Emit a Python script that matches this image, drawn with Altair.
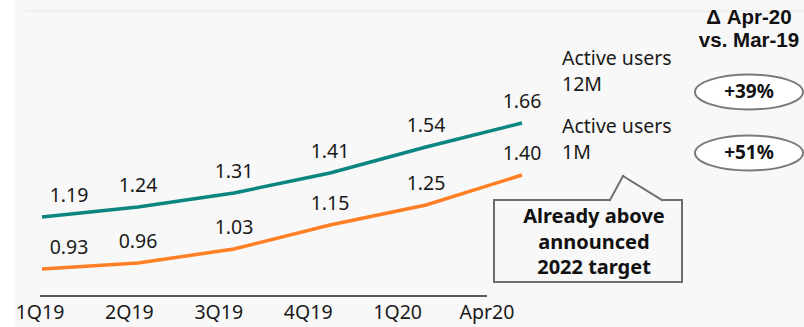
import altair as alt
import pandas as pd

# ---------------- data ----------------
periods = ["1Q19", "2Q19", "3Q19", "4Q19", "1Q20", "Apr20"]
series_names = ["Active users\n12M", "Active users\n1M"]
users_12m = [1.19, 1.24, 1.31, 1.41, 1.54, 1.66]
users_1m = [0.93, 0.96, 1.03, 1.15, 1.25, 1.40]
deltas = ["+39%", "+51%"]
delta_header = "Δ Apr-20\nvs. Mar-19"
callout_text = "Already above\nannounced\n2022 target"
series_colors = ["#0A8580", "#FF7F24"]

W, H = 804, 327
FONT = "Noto Sans"

rows = []
for name, vals in zip(series_names, [users_12m, users_1m]):
    for i, v in enumerate(vals):
        rows.append({"i": i, "period": periods[i], "s": name, "v": v})
df = pd.DataFrame(rows)
cat_df = pd.DataFrame({"j": list(range(len(periods))), "period": periods})
side_df = pd.DataFrame({"k": [0, 1], "name": series_names, "d": deltas})
one = pd.DataFrame({"a": [0]})

x_pts = alt.X("i:Q", scale=alt.Scale(domain=[-0.4375, 7.9375], nice=False, zero=False), axis=None)
y_val = alt.Y("v:Q", scale=alt.Scale(domain=[0.64, 2.275], nice=False, zero=False), axis=None)
color = alt.Color("s:N", scale=alt.Scale(domain=series_names, range=series_colors), legend=None)

# background panel and top separator
bg = alt.Chart(one).mark_rect(color="#F8F8F8").encode(
    x=alt.value(15), x2=alt.value(W), y=alt.value(0), y2=alt.value(H))
sep = alt.Chart(one).mark_rule(color="#E6E6E6", strokeWidth=1).encode(
    x=alt.value(25), x2=alt.value(W), y=alt.value(11))

lines = alt.Chart(df).mark_line(strokeWidth=3.5).encode(x=x_pts, y=y_val, color=color)

lab_style = dict(fontSize=19.5, font=FONT, color="#1A1A1A", baseline="middle", dy=-21)
labels_first = alt.Chart(df).transform_filter("datum.i == 0").mark_text(dx=27, **lab_style).encode(
    x=x_pts, y=y_val, text=alt.Text("v:Q", format=".2f"))
labels_rest = alt.Chart(df).transform_filter("datum.i > 0").mark_text(**lab_style).encode(
    x=x_pts, y=y_val, text=alt.Text("v:Q", format=".2f"))

# category axis (own scale)
cat_scale = alt.Scale(domain=[-0.4474, 8.5459], nice=False, zero=False)
x_cat = alt.X("j:Q", scale=cat_scale, axis=None)
cat_labels = alt.Chart(cat_df).mark_text(fontSize=19.5, font=FONT, color="#1A1A1A", baseline="middle").encode(
    x=x_cat, y=alt.value(313), text="period:N")
axis_line = alt.Chart(cat_df).transform_aggregate(j0="min(j)", j1="max(j)").mark_rule(
    color="#262626", strokeWidth=1.5).encode(
    x=alt.X("j0:Q", scale=cat_scale, axis=None), x2="j1:Q", y=alt.value(296))

# series names on the right (y of first line)
y_side_names = alt.Y("k:Q", scale=alt.Scale(domain=[0, 1], range=[59, 127], nice=False, zero=False), axis=None)
names = alt.Chart(side_df).mark_text(fontSize=19.5, font=FONT, color="#1A1A1A", align="left",
                                     baseline="middle", lineBreak="\n", lineHeight=26).encode(
    x=alt.value(562), y=y_side_names, text="name:N")

# delta header and ellipses
header = alt.Chart(pd.DataFrame({"t": [delta_header]})).mark_text(
    fontSize=20.5, font="Liberation Sans", fontWeight="bold", color="#111111",
    baseline="middle", lineBreak="\n", lineHeight=23).encode(
    x=alt.value(749), y=alt.value(18), text="t:N")

y_side_d = alt.Y("k:Q", scale=alt.Scale(domain=[0, 1], range=[92, 153], nice=False, zero=False), axis=None)
ellipse_path = "M -1 0 A 1 0.324 0 1 1 1 0 A 1 0.324 0 1 1 -1 0 Z"
ellipses = alt.Chart(side_df).mark_point(shape=ellipse_path, size=108 * 108, filled=True,
                                         fill="#FFFFFF", stroke="#7A7A7A", strokeWidth=2,
                                         opacity=1).encode(
    x=alt.value(749), y=y_side_d)
delta_txt = alt.Chart(side_df).mark_text(fontSize=19, font=FONT, fontWeight="bold",
                                         color="#111111", baseline="middle").encode(
    x=alt.value(749), y=y_side_d, text="d:N")

# callout box
seg_df = pd.DataFrame({
    "x": [494, 494, 682, 494, 662, 610, 623],
    "y": [200, 282, 282, 200, 200, 200, 176],
    "x2": [494, 682, 682, 610, 682, 623, 662],
    "y2": [282, 282, 200, 200, 200, 176, 200],
})
box = alt.Chart(seg_df).mark_rule(color="#6E6E6E", strokeWidth=2, strokeCap="square").encode(
    x=alt.X("x:Q", scale=None, axis=None), y=alt.Y("y:Q", scale=None, axis=None),
    x2="x2:Q", y2="y2:Q")
box_txt = alt.Chart(pd.DataFrame({"t": [callout_text]})).mark_text(
    fontSize=20, font=FONT, fontWeight="bold", color="#111111",
    baseline="middle", lineBreak="\n", lineHeight=25.5).encode(
    x=alt.value(594), y=alt.value(217), text="t:N")

chart = alt.layer(
    bg, sep, lines, labels_first, labels_rest, axis_line, cat_labels, names,
    header, ellipses, delta_txt, box, box_txt
).resolve_scale(x="independent", y="independent").properties(
    width=W, height=H, padding=0, autosize=alt.AutoSizeParams(type="none"),
    background="#FFFFFF"
).configure_view(strokeWidth=0)

chart.save("out.html", embed_options={"renderer": "svg", "actions": False})
